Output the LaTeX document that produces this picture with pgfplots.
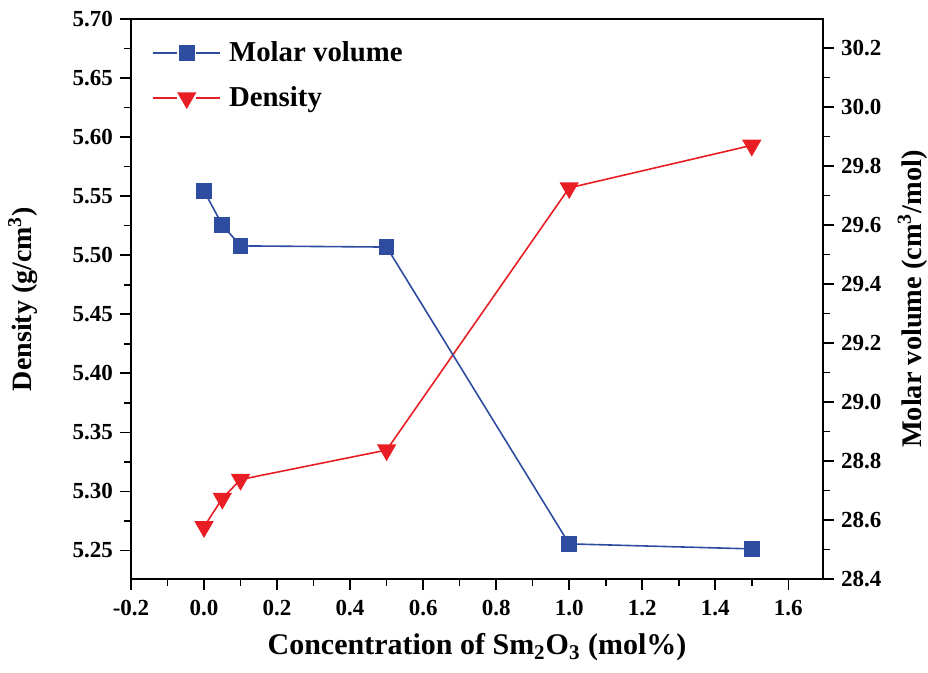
\documentclass[border=0pt]{standalone}
\usepackage{fontspec}
\setmainfont{Liberation Serif}
\usepackage{pgfplots}
\pgfplotsset{compat=1.18}
\definecolor{mvblue}{RGB}{46,76,160}
\definecolor{dred}{RGB}{232,30,36}
\pgfplotsset{
  common/.style={
    width=346pt, height=280pt, scale only axis,
    xmin=-0.2, xmax=1.695,
    tick align=outside, minor tick num=1,
    tick style={black, line width=0.8pt},
    major tick length=5.5pt, minor tick length=3.5pt,
    axis line style={line width=0.9pt},
    /pgf/number format/assume math mode=true,
    tick label style={font=\fontsize{11.5}{13}\selectfont\bfseries},
  },
  legimg/.style={
    legend image code/.code={
      \draw[##1, mark=none] (0cm,0cm) -- (0.42cm,0cm);
      \draw[##1, mark=none] (0.76cm,0cm) -- (1.18cm,0cm);
      \path[##1, draw=none] plot coordinates {(0.59cm,0cm)};
    },
  },
}
\begin{document}
\begin{tikzpicture}
\begin{axis}[
    common,
    ymin=5.2258, ymax=5.70,
    xtick={-0.2,0,0.2,0.4,0.6,0.8,1.0,1.2,1.4,1.6},
    ytick={5.25,5.30,5.35,5.40,5.45,5.50,5.55,5.60,5.65,5.70},
    xtick pos=bottom, ytick pos=left,
    xticklabel style={yshift=-1.5pt, /pgf/number format/.cd, fixed, fixed zerofill, precision=1},
    yticklabel style={/pgf/number format/.cd, fixed, fixed zerofill, precision=2},
    xlabel={Concentration of Sm\textsubscript{2}O\textsubscript{3} (mol\%)},
    ylabel={Density (g/cm\textsuperscript{3})},
    every axis x label/.style={at={(rel axis cs:0.5,0)}, yshift=-38pt, anchor=base,
        font=\fontsize{15}{17}\selectfont\bfseries},
    every axis y label/.style={at={(rel axis cs:0,0.5)}, xshift=-54pt, rotate=90, anchor=center,
        font=\fontsize{14}{16}\selectfont\bfseries},
]
\addplot[dred, line width=0.8pt, mark=triangle*, mark size=4.8pt,
    mark options={rotate=180, fill=dred, draw=dred}] coordinates {
    (0,5.270) (0.05,5.294) (0.1,5.310) (0.5,5.335) (1.0,5.557) (1.5,5.593)
};
\coordinate (bl) at (rel axis cs:0,0);
\coordinate (tr) at (rel axis cs:1,1);
\end{axis}
\begin{axis}[
    common, legimg,
    ymin=28.4, ymax=30.298,
    axis y line*=right, axis x line=none,
    ytick={28.4,28.6,28.8,29.0,29.2,29.4,29.6,29.8,30.0,30.2},
    yticklabel style={/pgf/number format/.cd, fixed, fixed zerofill, precision=1},
    ylabel={Molar volume (cm\textsuperscript{3}/mol)},
    every axis y label/.style={at={(rel axis cs:1,0.5)}, xshift=44.8pt, rotate=90, anchor=center,
        font=\fontsize{14.2}{16}\selectfont\bfseries},
    legend style={draw=none, fill=none, at={(rel axis cs:0,1)}, anchor=north west,
        xshift=7.5pt, yshift=-7pt,
        font=\fontsize{14.4}{16}\selectfont\bfseries, row sep=7pt,
        nodes={inner xsep=4pt}},
    legend cell align=left,
]
\addplot[mvblue, line width=0.8pt, mark=square*, mark size=3.5pt,
    mark options={fill=mvblue, draw=mvblue}] coordinates {
    (0,29.715) (0.05,29.600) (0.1,29.529) (0.5,29.525) (1.0,28.519) (1.5,28.502)
};
\addlegendentry{Molar volume}
\addlegendimage{dred, line width=0.8pt, mark=triangle*, mark size=4.8pt,
    mark options={rotate=180, fill=dred, draw=dred}}
\addlegendentry{Density}
\end{axis}
\pgfresetboundingbox
\path[use as bounding box] ([shift={(-65.5pt,-47pt)}]bl) rectangle ([shift={(52.5pt,9.5pt)}]tr);
\end{tikzpicture}
\end{document}
